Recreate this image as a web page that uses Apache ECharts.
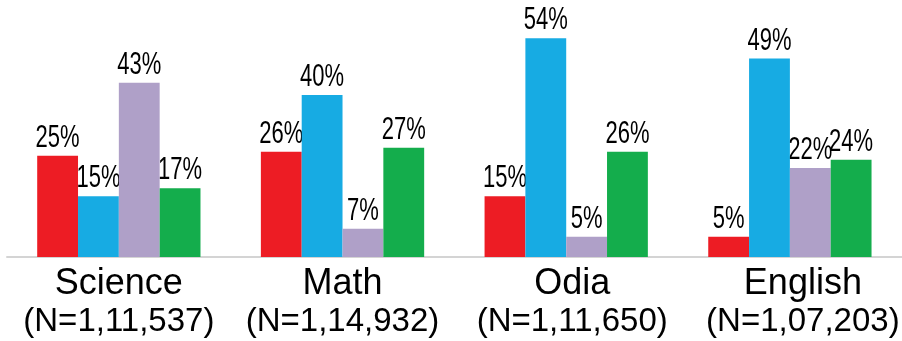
<!DOCTYPE html>
<html>
<head>
<meta charset="utf-8">
<style>
  html, body { margin: 0; padding: 0; background: #ffffff; }
  #chart { width: 902px; height: 341px; }
</style>
<script src="https://cdn.jsdelivr.net/npm/echarts@6/dist/echarts.min.js"></script>
</head>
<body>
<div id="chart"></div>
<script>
// Subjects and their sample sizes
const subjects = ['Science', 'Math', 'Odia', 'English'];
const sampleSizes = ['(N=1,11,537)', '(N=1,14,932)', '(N=1,11,650)', '(N=1,07,203)'];

// Percentage shares per subject, one array per series (left to right within a group)
const redValues = [25, 26, 15, 5];
const blueValues = [15, 40, 54, 49];
const purpleValues = [43, 7, 5, 22];
const greenValues = [17, 27, 26, 24];

const seriesColors = ['#ED1C24', '#17ABE3', '#AFA0C8', '#14AD4C'];
const seriesData = [redValues, blueValues, purpleValues, greenValues];

const chart = echarts.init(document.getElementById('chart'), null, { renderer: 'canvas' });

const catFont = '"Liberation Sans", Arial, sans-serif';

// Category label styles; the last two groups sit a little right of their band centre
const labelRich = {};
[0, 0, 12, 26].forEach((pad, i) => {
  labelRich['a' + i] = { fontFamily: catFont, fontSize: 36, lineHeight: 42, color: '#000000', padding: [0, 0, 0, pad] };
  labelRich['b' + i] = { fontFamily: catFont, fontSize: 33, lineHeight: 34, color: '#000000', padding: [0, 0, 0, pad] };
});

chart.setOption({
  animation: false,
  backgroundColor: '#ffffff',
  grid: { left: 7, top: 14, width: 900, height: 243, containLabel: false },
  xAxis: {
    type: 'category',
    data: subjects,
    axisLine: { show: true, lineStyle: { color: '#d4d4d4', width: 2 } },
    axisTick: { show: false },
    axisLabel: {
      interval: 0,
      margin: 6,
      formatter: (value, idx) => '{a' + idx + '|' + value + '}\n{b' + idx + '|' + sampleSizes[idx] + '}',
      rich: labelRich
    }
  },
  yAxis: {
    type: 'value',
    min: 0,
    max: 60,
    show: false,
    splitLine: { show: false }
  },
  series: seriesData.map((vals, i) => ({
    type: 'bar',
    name: 's' + i,
    data: vals,
    barGap: '0%',
    barCategoryGap: '27%',
    itemStyle: { color: seriesColors[i] }
  }))
});

// Value labels: condensed text centred over each bar, placed from the bar layout the chart computed
const labelGraphics = [];
seriesData.forEach((vals, si) => {
  const data = chart.getModel().getSeriesByIndex(si).getData();
  vals.forEach((v, ci) => {
    const rect = data.getItemLayout(ci);
    const cx = rect.x + rect.width / 2;
    const top = Math.min(rect.y, rect.y + rect.height);
    labelGraphics.push({
      type: 'text',
      x: cx,
      y: top - 2,
      scaleX: 0.71,
      style: {
        text: v + '%',
        font: '31px "Liberation Sans", Arial, sans-serif',
        fill: '#000000',
        textAlign: 'center',
        textVerticalAlign: 'bottom'
      }
    });
  });
});
chart.setOption({ graphic: labelGraphics });
</script>
</body>
</html>
